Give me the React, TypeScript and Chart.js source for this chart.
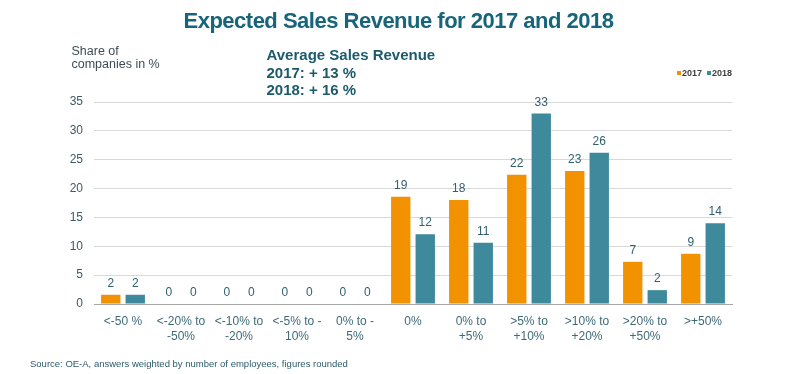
import React, { useEffect, useRef } from "react";
import { Chart, registerables } from "chart.js";

Chart.register(...registerables);

const categories: string[][] = [
  ["<-50 %"],
  ["<-20% to", "-50%"],
  ["<-10% to", "-20%"],
  ["<-5% to -", "10%"],
  ["0% to -", "5%"],
  ["0%"],
  ["0% to", "+5%"],
  [">5% to", "+10%"],
  [">10% to", "+20%"],
  [">20% to", "+50%"],
  [">+50%"],
];
const series2017: number[] = [1.6, 0, 0, 0, 0, 18.6, 18.0, 22.4, 23.05, 7.3, 8.7];
const series2018: number[] = [1.6, 0, 0, 0, 0, 12.1, 10.6, 33.0, 26.2, 2.4, 14.0];
const seriesNames: string[] = ["2017", "2018"];
const seriesColors: string[] = ["#F39200", "#3F899D"];
const yTicks = { min: 0, max: 35, step: 5 };

const titleText = "Expected Sales Revenue for 2017 and 2018";
const yCaption = ["Share of", "companies in %"];
const noteLines = ["Average Sales Revenue", "2017: + 13 %", "2018: + 16 %"];
const sourceText = "Source: OE-A, answers weighted by number of employees, figures rounded";

const FONT = "'Liberation Sans', Arial, sans-serif";

const dataLabelPlugin = {
  id: "dataLabels",
  afterDatasetsDraw(chart: any) {
    const ctx = chart.ctx;
    ctx.save();
    ctx.font = `12px ${FONT}`;
    ctx.fillStyle = "#2f6070";
    ctx.textAlign = "center";
    ctx.textBaseline = "alphabetic";
    chart.data.datasets.forEach((ds: any, di: number) => {
      const meta = chart.getDatasetMeta(di);
      meta.data.forEach((bar: any, i: number) => {
        const v = ds.data[i];
        ctx.fillText(String(Math.round(v)), bar.x, bar.y - 8);
      });
    });
    ctx.restore();
  },
};

export default function App() {
  const ref = useRef<HTMLCanvasElement | null>(null);

  useEffect(() => {
    if (!ref.current) return;
    const chart = new Chart(ref.current, {
      type: "bar",
      data: {
        labels: categories,
        datasets: [
          { label: seriesNames[0], data: series2017, backgroundColor: seriesColors[0], barPercentage: 0.79, categoryPercentage: 0.845 },
          { label: seriesNames[1], data: series2018, backgroundColor: seriesColors[1], barPercentage: 0.79, categoryPercentage: 0.845 },
        ],
      },
      options: {
        animation: false,
        responsive: false,
        maintainAspectRatio: false,
        layout: { padding: { top: 102, right: 68, bottom: 0, left: 0 } },
        plugins: { legend: { display: false }, title: { display: false }, tooltip: { enabled: false } },
        scales: {
          x: {
            grid: { display: false, drawTicks: false },
            border: { display: true, color: "#a6a6a6", width: 1 },
            ticks: { font: { family: FONT, size: 12, lineHeight: 1.25 }, color: "#3e6a78", padding: 10, maxRotation: 0, autoSkip: false },
            afterFit: (s: any) => { s.height = 70; },
          },
          y: {
            min: yTicks.min,
            max: yTicks.max,
            ticks: { stepSize: yTicks.step, font: { family: FONT, size: 12 }, color: "#3f5a66", padding: 11 },
            grid: { color: "#d9d9d9", drawTicks: false, lineWidth: 1 },
            border: { display: false },
            afterFit: (s: any) => { s.width = 94; },
          },
        },
      },
      plugins: [dataLabelPlugin],
    });
    return () => chart.destroy();
  }, []);

  return (
    <div style={{ position: "fixed", left: 0, top: 0, width: 800, height: 374, background: "#fff", fontFamily: FONT }}>
      <canvas ref={ref} width={800} height={374} style={{ position: "absolute", left: 0, top: 0 }} />
      <div style={{ position: "absolute", left: 0, top: 9.7, width: 797, textAlign: "center", fontSize: 22, lineHeight: "22px", fontWeight: "bold", letterSpacing: "-0.5px", color: "#17657a", whiteSpace: "nowrap" }}>
        {titleText}
      </div>
      <div style={{ position: "absolute", left: 71.5, top: 45.2, fontSize: 12.5, lineHeight: "13px", color: "#3d4d55", whiteSpace: "nowrap" }}>
        {yCaption.map((l, i) => <div key={i}>{l}</div>)}
      </div>
      <div style={{ position: "absolute", left: 266.5, top: 46, fontSize: 15, lineHeight: "17.5px", fontWeight: "bold", color: "#1b5b6b", whiteSpace: "nowrap" }}>
        {noteLines.map((l, i) => <div key={i}>{l}</div>)}
      </div>
      {seriesNames.map((n, i) => (
        <React.Fragment key={n}>
          <div style={{ position: "absolute", left: 677 + i * 30, top: 71, width: 4, height: 4, background: seriesColors[i] }} />
          <div style={{ position: "absolute", left: 682 + i * 30, top: 68.5, fontSize: 9, lineHeight: "9px", fontWeight: "bold", color: "#404040", whiteSpace: "nowrap" }}>{n}</div>
        </React.Fragment>
      ))}
      <div style={{ position: "absolute", left: 30, top: 359, fontSize: 9.5, lineHeight: "10px", color: "#2d5b6b", whiteSpace: "nowrap" }}>
        {sourceText}
      </div>
    </div>
  );
}
